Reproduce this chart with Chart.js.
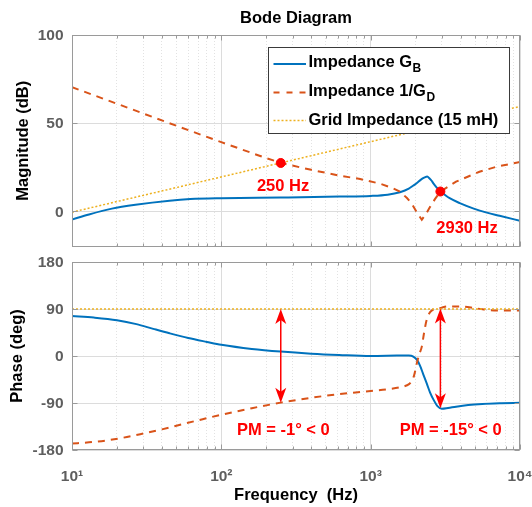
<!DOCTYPE html>
<html>
<head>
<meta charset="utf-8">
<script src="https://cdn.jsdelivr.net/npm/chart.js@4.4.0/dist/chart.umd.min.js"></script>
<style>
html,body{margin:0;padding:0;background:#fff;}
#wrap{position:relative;width:532px;height:507px;overflow:hidden;}
.box{position:absolute;left:0;width:532px;}
</style>
</head>
<body>
<div id="wrap">
  <div class="box" style="top:0;height:252px"><canvas id="c1" width="532" height="252"></canvas></div>
  <div class="box" style="top:252px;height:255px"><canvas id="c2" width="532" height="255"></canvas></div>
</div>
<script>
// ---------------- data ----------------
const xMin = 10, xMax = 10000;
const xMajor = [10, 100, 1000, 10000];
const xTickLabels = ['10\u00B9', '10\u00B2', '10\u00B3', '10\u2074'];
const magMin = -20, magMax = 100;
const magTicks = [0, 50, 100];
const phMin = -180, phMax = 180;
const phTicks = [-180, -90, 0, 90, 180];

// Impedance G_B magnitude (dB)
const freqMagGB = [10, 13, 18.5, 26.6, 45, 62, 100, 250, 620, 1000, 1300, 1570, 1800, 1930, 2050, 2140, 2230, 2300, 2390, 2480, 2560, 2630, 2760, 2930, 3150, 3380, 3950, 4900, 6000, 7300, 10000];
const magGB = [-4.7, -1.8, 1.5, 3.7, 6.0, 6.9, 7.4, 7.8, 8.3, 8.7, 9.4, 10.8, 12.8, 14.6, 16.2, 17.5, 18.6, 19.2, 19.7, 18.6, 17.3, 15.8, 13.6, 11.2, 9.2, 7.4, 4.6, 1.5, -0.8, -2.6, -5.4];

// Impedance 1/G_D magnitude (dB)
const freqMagGD = [10, 20, 50, 100, 180, 250, 400, 620, 850, 1160, 1400, 1570, 1750, 1880, 2050, 2200, 2350, 2500, 2700, 2930, 3730, 5350, 7000, 10000];
const magGD = [70.4, 61, 48.5, 39.2, 31.5, 27.4, 23.5, 20.2, 18.3, 15.6, 13.2, 11.2, 7.5, 4.5, -1, -4.8, -1.5, 2.5, 7, 11.2, 16.8, 22.4, 25.3, 28];

// Grid impedance (15 mH)
const freqGrid = [10, 10000];
const magGrid = [-0.52, 59.48];
const phGrid = [90, 90];

// Phase of G_B (deg)
const freqPhGB = [10, 14, 20, 27, 35, 45, 60, 80, 100, 160, 250, 400, 615, 1000, 1500, 1800, 1930, 2050, 2150, 2250, 2370, 2500, 2640, 2800, 3000, 3300, 3730, 4500, 5600, 7500, 10000];
const phGB = [76.5, 73.5, 68.5, 61, 52, 43.5, 34.5, 27, 21.5, 13.5, 8.4, 4.5, 2, 0, 0.8, 1, -1, -8, -20, -35, -52, -70, -84, -96, -101, -99.5, -97, -94, -92, -90.5, -89.5];

// Phase of 1/G_D (deg)
const freqPhGD = [10, 13, 17, 22, 30, 40, 55, 75, 100, 160, 250, 400, 615, 1000, 1300, 1570, 1750, 1837, 1950, 2037, 2120, 2200, 2280, 2370, 2500, 2700, 2946, 3230, 4000, 5130, 7000, 10000];
const phGD = [-167.7, -165.3, -161.7, -156.5, -148.5, -140.5, -130.5, -121, -112.5, -100, -89.3, -80, -73, -67, -63.5, -60, -56, -52, -38, -14, 4, 18, 45, 69, 84, 90, 92, 95, 95, 91, 87, 87];

// crossing markers
const markFreq = [250, 2930];
const markMag = [27.4, 11.2];
const markLabels = ['250 Hz', '2930 Hz'];
const markLabelFreq = [259, 4420];
const markLabelMag = [14, -9.5];

// phase margin arrows
const pmFreq = [250, 2930];
const pmTop = [90, 91];
const pmBottom = [-89.3, -100];
const pmLabels = ['PM = -1\u00B0 < 0', 'PM = -15\u00B0 < 0'];
const pmLabelFreq = [260, 3436];
const pmLabelPh = [-143, -143];

const legendMain = ['Impedance G', 'Impedance 1/G', 'Grid Impedance (15 mH)'];
const legendSub = ['B', 'D', ''];

// ---------------- styles ----------------
const FAM = "'Liberation Sans', Arial, Helvetica, sans-serif";
const BLUE = '#0072BD', ORANGE = '#D95319', YELLOW = '#EDB120', RED = '#FF0000';
const GRID = '#dcdcdc', MINOR = '#e2e2e2', FRAME = '#9a9a9a', TICK = '#5e5e5e';
const TXT = 16.5, TCK = 15.5;

const xMinor = [];
for (let i = 0; i < xMajor.length - 1; i++) for (let k = 2; k <= 9; k++) xMinor.push(xMajor[i] * k);

const zip = (xs, ys) => xs.map((x, i) => ({x: x, y: ys[i]}));

function xAxes(showLabels, h) {
  return {
    x: {
      type: 'logarithmic', min: xMin, max: xMax, position: 'bottom',
      afterBuildTicks: s => { s.ticks = xMajor.map(v => ({value: v, major: true})); },
      afterFit: s => { s.height = h; s.paddingLeft = 0; s.paddingRight = 0; },
      ticks: {
        display: showLabels, autoSkip: false, maxRotation: 0, minRotation: 0, padding: 17,
        color: TICK, font: {family: FAM, size: TCK, weight: 'bold'},
        callback: function (v) { const i = xMajor.indexOf(v); return i >= 0 ? xTickLabels[i] : ''; }
      },
      grid: {color: GRID, drawTicks: false, lineWidth: 1},
      border: {display: false},
      title: {display: showLabels, text: 'Frequency  (Hz)', color: '#000',
              font: {family: FAM, size: TXT, weight: 'bold'}, padding: {top: 0, bottom: 1.5}}
    },
    xm: {
      type: 'logarithmic', min: xMin, max: xMax, position: 'bottom',
      afterBuildTicks: s => { s.ticks = xMinor.map(v => ({value: v})); },
      afterFit: s => { s.height = 0; s.paddingLeft = 0; s.paddingRight = 0; },
      ticks: {display: false},
      grid: {color: MINOR, drawTicks: false, lineWidth: 1},
      border: {display: false, dash: [1, 2]}
    }
  };
}

function yAxis(min, max, ticks, title, titlePad) {
  return {
    type: 'linear', min: min, max: max,
    afterBuildTicks: s => { s.ticks = ticks.map(v => ({value: v})); },
    afterFit: s => { s.width = 72; s.paddingTop = 0; s.paddingBottom = 0; },
    ticks: {color: TICK, font: {family: FAM, size: TCK, weight: 'bold'}, padding: 8.5, labelOffset: 1},
    grid: {color: GRID, drawTicks: false},
    border: {display: false},
    title: {display: true, text: title, color: '#000', font: {family: FAM, size: TXT, weight: 'bold'},
            padding: {top: titlePad, bottom: 0}}
  };
}

const framePlugin = {
  id: 'frame',
  afterDatasetsDraw(chart) {
    const {ctx, chartArea: a, scales} = chart;
    ctx.save();
    ctx.strokeStyle = FRAME; ctx.lineWidth = 1;
    const L = Math.round(a.left) + 0.5, R = Math.round(a.right) - 0.5;
    const T = Math.round(a.top) + 0.5, B = Math.round(a.bottom) - 0.5;
    ctx.strokeRect(L, T, R - L, B - T);
    ctx.beginPath();
    xMajor.concat(xMinor).forEach(v => {
      const px = Math.round(scales.x.getPixelForValue(v)) + 0.5;
      const len = xMajor.includes(v) ? 5 : 3;
      ctx.moveTo(px, T); ctx.lineTo(px, T + len);
      ctx.moveTo(px, B); ctx.lineTo(px, B - len);
    });
    scales.y.ticks.forEach(t => {
      const py = Math.round(scales.y.getPixelForValue(t.value)) + 0.5;
      ctx.moveTo(L, py); ctx.lineTo(L + 5, py);
      ctx.moveTo(R, py); ctx.lineTo(R - 5, py);
    });
    ctx.stroke();
    ctx.restore();
  }
};

const magNotes = {
  id: 'magNotes',
  afterDraw(chart) {
    const {ctx, chartArea: a, scales} = chart;
    ctx.save();
    // crossing labels
    ctx.fillStyle = RED;
    ctx.font = 'bold ' + TXT + 'px ' + FAM;
    ctx.textAlign = 'center'; ctx.textBaseline = 'middle';
    markLabels.forEach((t, i) => {
      ctx.fillText(t, scales.x.getPixelForValue(markLabelFreq[i]), scales.y.getPixelForValue(markLabelMag[i]));
    });
    // legend
    const bw = 241, bh = 86;
    const bx = Math.round(a.right - 11.5 - bw) + 0.5, by = Math.round(a.top + 12) + 0.5;
    ctx.fillStyle = '#fff';
    ctx.fillRect(bx, by, bw, bh);
    ctx.strokeStyle = '#3a3a3a'; ctx.lineWidth = 1;
    ctx.strokeRect(bx, by, bw, bh);
    const ds = chart.data.datasets;
    const baseY = [19, 48, 77], lineY = [16.5, 45, 73];
    ctx.textAlign = 'left'; ctx.textBaseline = 'alphabetic';
    for (let i = 0; i < 3; i++) {
      const d = ds[i];
      ctx.save();
      ctx.strokeStyle = d.borderColor; ctx.lineWidth = d.borderWidth;
      ctx.setLineDash(i === 1 ? [6, 7] : (d.borderDash || []));
      ctx.beginPath();
      ctx.moveTo(bx + 5, by + lineY[i]); ctx.lineTo(bx + 37.5, by + lineY[i]);
      ctx.stroke();
      ctx.restore();
      ctx.fillStyle = '#000';
      ctx.font = 'bold ' + TXT + 'px ' + FAM;
      const tx = bx + 40, ty = by + baseY[i];
      ctx.fillText(legendMain[i], tx, ty);
      if (legendSub[i]) {
        const w = ctx.measureText(legendMain[i]).width;
        ctx.font = 'bold 12px ' + FAM;
        ctx.fillText(legendSub[i], tx + w + 0.5, ty + 5);
      }
    }
    ctx.restore();
  }
};

function arrowHead(ctx, x, y, dir) {
  const L = 15, W = 5.5, N = 11;
  ctx.beginPath();
  ctx.moveTo(x, y);
  ctx.lineTo(x - W, y - dir * L);
  ctx.lineTo(x, y - dir * N);
  ctx.lineTo(x + W, y - dir * L);
  ctx.closePath();
  ctx.fill();
}

const phNotes = {
  id: 'phNotes',
  afterDraw(chart) {
    const {ctx, scales} = chart;
    ctx.save();
    ctx.fillStyle = RED; ctx.strokeStyle = RED; ctx.lineWidth = 1.5;
    pmFreq.forEach((f, i) => {
      const x = scales.x.getPixelForValue(f);
      const yt = scales.y.getPixelForValue(pmTop[i]);
      const yb = scales.y.getPixelForValue(pmBottom[i]);
      ctx.beginPath(); ctx.moveTo(x, yt + 10); ctx.lineTo(x, yb - 10); ctx.stroke();
      arrowHead(ctx, x, yt, -1);
      arrowHead(ctx, x, yb, 1);
    });
    ctx.font = 'bold ' + TXT + 'px ' + FAM;
    ctx.textAlign = 'center'; ctx.textBaseline = 'middle';
    pmLabels.forEach((t, i) => {
      ctx.fillText(t, scales.x.getPixelForValue(pmLabelFreq[i]), scales.y.getPixelForValue(pmLabelPh[i]));
    });
    ctx.restore();
  }
};

const common = {
  responsive: false, animation: false,
  events: [],
  elements: {line: {fill: false}, point: {radius: 0}}
};

new Chart(document.getElementById('c1'), {
  type: 'line',
  data: {
    datasets: [
      {label: 'Impedance G_B', data: zip(freqMagGB, magGB), borderColor: BLUE, borderWidth: 2,
       pointRadius: 0, cubicInterpolationMode: 'monotone', order: 3},
      {label: 'Impedance 1/G_D', data: zip(freqMagGD, magGD), borderColor: ORANGE, borderWidth: 2,
       borderDash: [7, 6], pointRadius: 0, tension: 0, order: 2},
      {label: 'Grid Impedance (15 mH)', data: zip(freqGrid, magGrid), borderColor: YELLOW, borderWidth: 1.5,
       borderDash: [2, 2], pointRadius: 0, order: 1},
      {label: 'crossings', data: zip(markFreq, markMag), showLine: false, pointRadius: 4.5,
       pointBackgroundColor: RED, pointBorderColor: RED, borderColor: RED, order: 0}
    ]
  },
  options: Object.assign({}, common, {
    layout: {padding: {left: 0, right: 12, top: 0, bottom: 3}},
    plugins: {
      legend: {display: false}, tooltip: {enabled: false},
      title: {display: true, text: 'Bode Diagram', color: '#000', fullSize: false,
              font: {family: FAM, size: TXT, weight: 'bold'}, padding: {top: 9, bottom: 6.2}}
    },
    scales: Object.assign(xAxes(false, 0), {y: yAxis(magMin, magMax, magTicks, 'Magnitude (dB)', 14)})
  }),
  plugins: [framePlugin, magNotes]
});

new Chart(document.getElementById('c2'), {
  type: 'line',
  data: {
    datasets: [
      {label: 'Impedance G_B', data: zip(freqPhGB, phGB), borderColor: BLUE, borderWidth: 2,
       pointRadius: 0, cubicInterpolationMode: 'monotone', order: 3},
      {label: 'Impedance 1/G_D', data: zip(freqPhGD, phGD), borderColor: ORANGE, borderWidth: 2,
       borderDash: [7, 6], pointRadius: 0, cubicInterpolationMode: 'monotone', order: 2},
      {label: 'Grid Impedance (15 mH)', data: zip(freqGrid, phGrid), borderColor: YELLOW, borderWidth: 1.5,
       borderDash: [2, 2], pointRadius: 0, order: 1}
    ]
  },
  options: Object.assign({}, common, {
    layout: {padding: {left: 0, right: 12, top: 10, bottom: 0}},
    plugins: {legend: {display: false}, tooltip: {enabled: false}},
    scales: Object.assign(xAxes(true, 57), {y: yAxis(phMin, phMax, phTicks, 'Phase (deg)', 8)})
  }),
  plugins: [framePlugin, phNotes]
});
</script>
</body>
</html>
